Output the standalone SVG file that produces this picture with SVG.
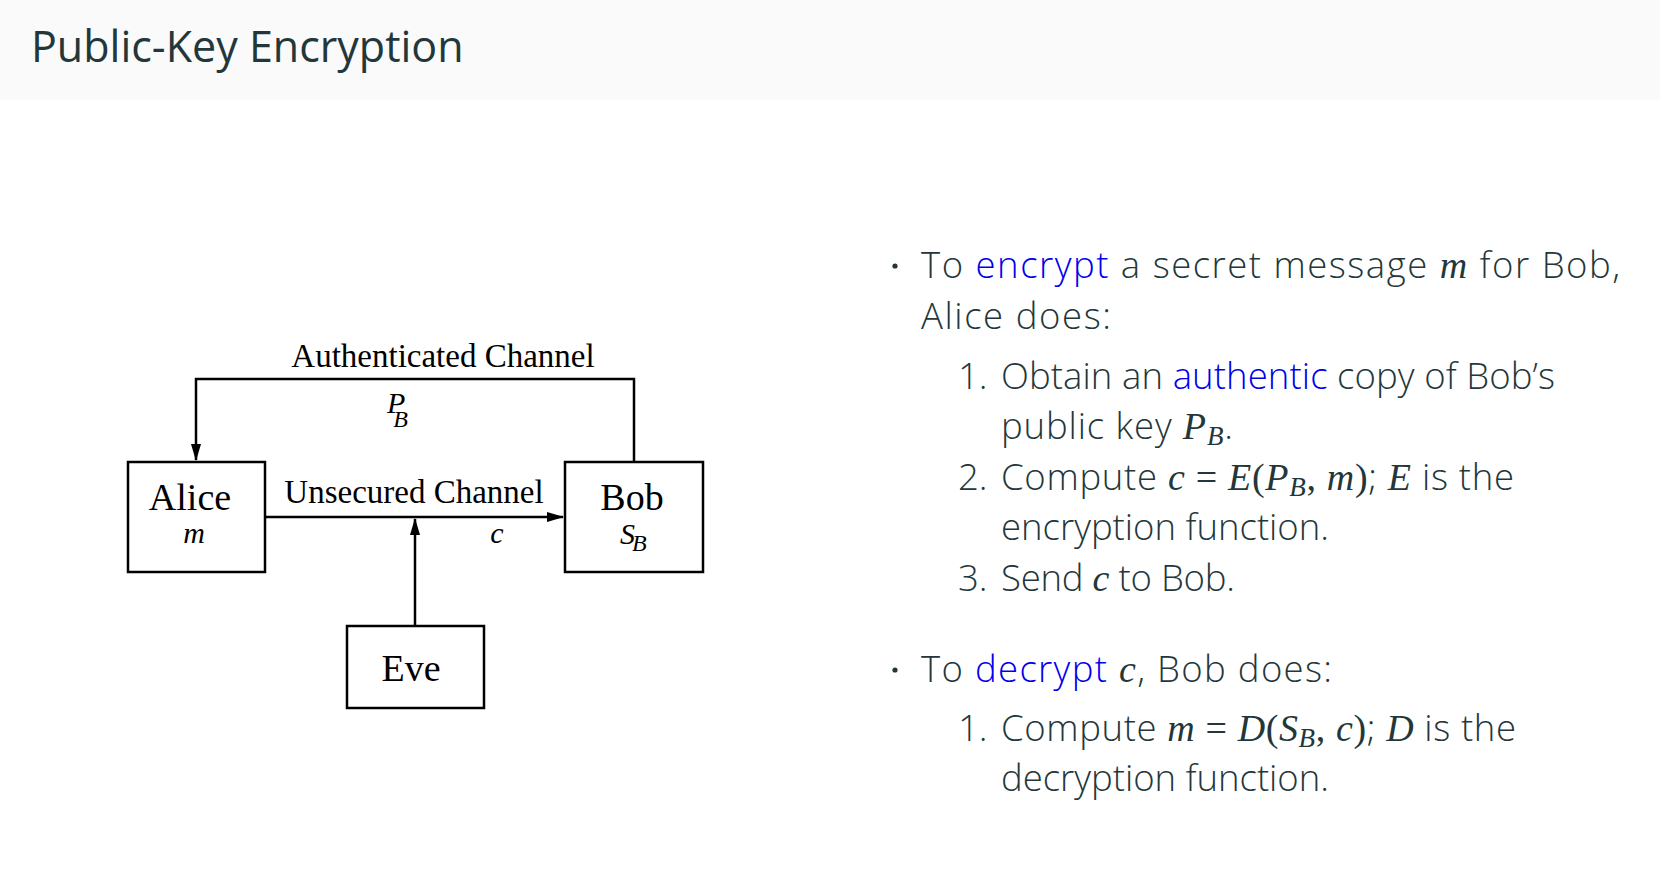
<svg xmlns="http://www.w3.org/2000/svg" width="1660" height="878" viewBox="0 0 1660 878">
<style>
.bg{fill:#ffffff}
.bar{fill:#fafafa}
.title{font-family:"Open Sans","Noto Sans",sans-serif;font-size:43px;fill:#23373b}
.body{font-family:"Open Sans","Noto Sans",sans-serif;font-size:36.5px;font-weight:300;fill:#23373b}
.hl{fill:#0000ee}
.math{font-family:"Liberation Serif",serif;font-style:italic;font-size:38px}
.up{font-family:"Liberation Serif",serif;font-style:normal;font-size:38px}
.sub{font-family:"Liberation Serif",serif;font-style:italic;font-size:27px}
.box{fill:#ffffff;stroke:#000;stroke-width:2.5}
.lbl{font-family:"Liberation Serif",serif;font-size:38px;fill:#000;text-anchor:middle}
.chan{font-family:"Liberation Serif",serif;font-size:33px;fill:#000;text-anchor:middle}
.it{font-family:"Liberation Serif",serif;font-style:italic;fill:#000}
.edge{fill:none;stroke:#000;stroke-width:2.5}
</style>
<defs>
<marker id="arr" markerWidth="17" markerHeight="10" refX="16" refY="5" orient="auto" markerUnits="userSpaceOnUse">
<path d="M0,0 L17,5 L0,10 Z" fill="#000"/>
</marker>
</defs>
<rect class="bg" x="0" y="0" width="1660" height="878"/>
<rect class="bar" x="0" y="0" width="1660" height="100"/>
<text class="title" x="31" y="62">Public-Key Encryption</text>

<g id="connectors">
<path class="edge" d="M634,462 V379 H196 V460" marker-end="url(#arr)"/>
<path class="edge" d="M265,517 H563" marker-end="url(#arr)"/>
<path class="edge" d="M415,626 V519" marker-end="url(#arr)"/>
<text class="chan" x="443" y="367">Authenticated Channel</text>
<text class="it" x="387" y="413" font-size="30">P<tspan font-size="24" dx="-12" dy="14">B</tspan></text>
<text class="chan" x="414" y="503">Unsecured Channel</text>
<text class="it" x="497" y="543" font-size="30" text-anchor="middle">c</text>
</g>

<g id="alice">
<rect class="box" x="128" y="462" width="137" height="110"/>
<text class="lbl" x="190" y="510">Alice</text>
<text class="it" x="194" y="543" font-size="30" text-anchor="middle">m</text>
</g>
<g id="bob">
<rect class="box" x="565" y="462" width="138" height="110"/>
<text class="lbl" x="632" y="510">Bob</text>
<text class="it" x="620" y="544" font-size="30">S<tspan font-size="24" dx="-3" dy="7">B</tspan></text>
</g>
<g id="eve">
<rect class="box" x="347" y="626" width="137" height="82"/>
<text class="lbl" x="411" y="681">Eve</text>
</g>

<g id="text">
<circle cx="895" cy="266" r="2.6" fill="#23373b"/>
<text class="body" x="921" y="278" textLength="699" lengthAdjust="spacing">To <tspan class="hl">encrypt</tspan> a secret message <tspan class="math">m</tspan> for Bob,</text>
<text class="body" x="921" y="329" textLength="190" lengthAdjust="spacing">Alice does:</text>
<text class="body" x="958" y="389">1.</text>
<text class="body" x="1001" y="389" textLength="554" lengthAdjust="spacing">Obtain an <tspan class="hl">authentic</tspan> copy of Bob’s</text>
<text class="body" x="1001" y="439" textLength="232" lengthAdjust="spacing">public key <tspan class="math">P</tspan><tspan class="sub" dy="6">B</tspan><tspan dy="-6">.</tspan></text>
<text class="body" x="958" y="490">2.</text>
<text class="body" x="1001" y="490" textLength="513" lengthAdjust="spacing">Compute <tspan class="math">c</tspan><tspan class="up"> = </tspan><tspan class="math">E</tspan><tspan class="up">(</tspan><tspan class="math">P</tspan><tspan class="sub" dy="6">B</tspan><tspan class="up" dy="-6">, </tspan><tspan class="math">m</tspan><tspan class="up">)</tspan>; <tspan class="math">E</tspan> is the</text>
<text class="body" x="1001" y="540" textLength="328" lengthAdjust="spacing">encryption function.</text>
<text class="body" x="958" y="591">3.</text>
<text class="body" x="1001" y="591" textLength="234" lengthAdjust="spacing">Send <tspan class="math">c</tspan> to Bob.</text>
<circle cx="895" cy="670" r="2.6" fill="#23373b"/>
<text class="body" x="921" y="682" textLength="411" lengthAdjust="spacing">To <tspan class="hl">decrypt</tspan> <tspan class="math">c</tspan>, Bob does:</text>
<text class="body" x="958" y="741">1.</text>
<text class="body" x="1001" y="741" textLength="515" lengthAdjust="spacing">Compute <tspan class="math">m</tspan><tspan class="up"> = </tspan><tspan class="math">D</tspan><tspan class="up">(</tspan><tspan class="math">S</tspan><tspan class="sub" dy="6">B</tspan><tspan class="up" dy="-6">, </tspan><tspan class="math">c</tspan><tspan class="up">)</tspan>; <tspan class="math">D</tspan> is the</text>
<text class="body" x="1001" y="791" textLength="328" lengthAdjust="spacing">decryption function.</text>
</g>
</svg>
